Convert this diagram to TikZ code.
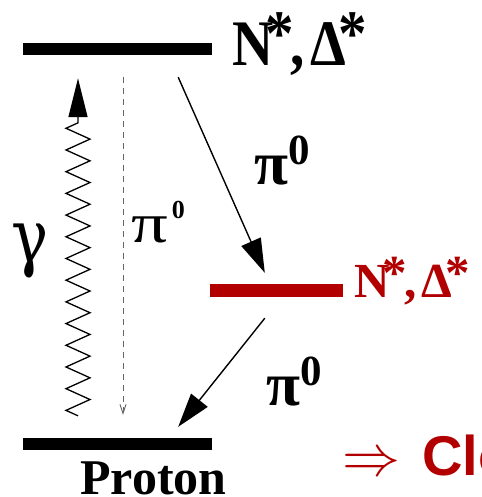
\RequirePackage{fix-cm}
\documentclass[tikz,border=0pt]{standalone}
\usepackage{fontspec}
\setmainfont{Liberation Serif}
\setsansfont{Liberation Sans}
\newfontfamily\greekfont{DejaVu Serif}
\usepackage{tikz}
\usetikzlibrary{arrows.meta,decorations.pathmorphing}
\definecolor{levelred}{RGB}{178,0,0}
\newcommand{\exstar}{\kern-0.14em\raisebox{0.16em}{*}}
\newcommand{\resonance}{N\exstar\kern-0.06em,\kern0.1emΔ\exstar}

\begin{document}
\begin{tikzpicture}[
  x=1pt, y=-1pt,
  level/.style={draw=none, fill=black, rectangle, inner sep=0pt, minimum width=189pt, minimum height=12pt},
  redlevel/.style={level, fill=levelred, minimum width=133pt, minimum height=13pt},
  lbl/.style={inner sep=0pt, anchor=base west},
  decay/.style={line width=1.4pt, -{Triangle[length=34pt,width=21pt]}},
  photon/.style={line width=1.3pt, decorate, decoration={zigzag, segment length=21.7pt, amplitude=12pt, post length=41pt}, -{Triangle[length=39pt,width=19pt]}},
  virt/.style={gray!80!black, line width=0.9pt, dash pattern=on 6pt off 5pt, -{Straight Barb[length=9pt,width=6pt]}}
]
  \useasboundingbox (0,0) rectangle (481,497);

  % Nodes
  \node[level] (top) at (117.5,49) {};
  \node[redlevel] (mid) at (276.5,290.5) {};
  \node[level] (bot) at (117.5,444) {};

  \node[lbl, font=\fontsize{57}{57}\selectfont\bfseries] (toplbl) at (232,66) {\scalebox{1}[1.14]{\resonance}};
  \node[lbl, text=levelred, font=\fontsize{49}{49}\selectfont\bfseries] (midlbl) at (354,297) {\resonance};
  \node[lbl, font=\fontsize{50}{50}\selectfont\bfseries] (proton) at (80,494) {Proton};

  \node[lbl, font=\fontsize{62}{62}\selectfont\greekfont] (gamma) at (11,262) {\scalebox{1}[1.2]{γ}};
  \node[lbl, font=\fontsize{56}{56}\selectfont] (pivirt) at (131,242) {\scalebox{1.3}[1]{π}\kern4pt\raisebox{24pt}{\fontsize{26}{26}\selectfont\bfseries 0}};
  \node[lbl, font=\fontsize{62}{62}\selectfont\bfseries] (pione) at (254,184) {π\raisebox{20pt}{\fontsize{43}{43}\selectfont 0}};
  \node[lbl, font=\fontsize{62}{62}\selectfont\bfseries] (pitwo) at (266,405) {π\raisebox{20pt}{\fontsize{43}{43}\selectfont 0}};

  \node[lbl, text=levelred, font=\fontsize{58}{58}\selectfont] (impl) at (342,475) {$\Rightarrow$};
  \node[lbl, text=levelred, font=\fontsize{56}{56}\selectfont\sffamily\bfseries] (concl) at (422,475) {Clo};

  % Arrows
  \draw[photon] ([xshift=-39.5pt,yshift=22pt]bot.north) -- ([xshift=-39.5pt,yshift=-23pt]top.south);
  \draw[virt] ([xshift=5.5pt,yshift=-22pt]top.south) -- ([xshift=5.5pt,yshift=23pt]bot.north);
  \draw[decay] ([xshift=-34pt,yshift=-22pt]top.south east) -- ([xshift=55pt,yshift=11pt]mid.north west);
  \draw[decay] ([xshift=55pt,yshift=-21pt]mid.south west) -- ([xshift=-34pt,yshift=11pt]bot.north east);
\end{tikzpicture}
\end{document}
